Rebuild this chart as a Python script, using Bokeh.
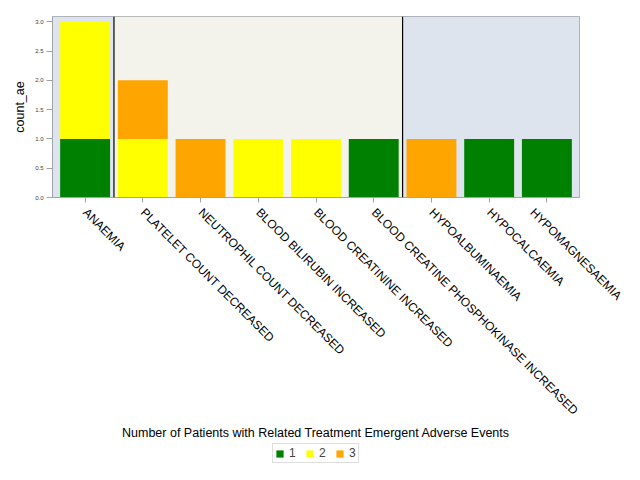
import math
from bokeh.plotting import figure
from bokeh.layouts import column
from bokeh.models import (FactorRange, Range1d, BoxAnnotation, Span, Legend, LegendItem,
                          FixedTicker, PrintfTickFormatter, ColumnDataSource)
from bokeh.embed import file_html
from bokeh.resources import INLINE

categories = ["ANAEMIA", "PLATELET COUNT DECREASED", "NEUTROPHIL COUNT DECREASED",
              "BLOOD BILIRUBIN INCREASED", "BLOOD CREATININE INCREASED",
              "BLOOD CREATINE PHOSPHOKINASE INCREASED", "HYPOALBUMINAEMIA",
              "HYPOCALCAEMIA", "HYPOMAGNESAEMIA"]
groups = ["BLOOD", "INVESTIGATIONS", "INVESTIGATIONS", "INVESTIGATIONS", "INVESTIGATIONS",
          "INVESTIGATIONS", "METABOLISM", "METABOLISM", "METABOLISM"]
grade_1 = [1, 0, 0, 0, 0, 1, 0, 1, 1]
grade_2 = [2, 1, 0, 1, 1, 0, 0, 0, 0]
grade_3 = [0, 1, 1, 0, 0, 0, 1, 0, 0]
grades = ["1", "2", "3"]
grade_colors = ["#008000", "#FFFF00", "#FFA500"]
y_ticks = [0.0, 0.5, 1.0, 1.5, 2.0, 2.5, 3.0]
group_colors = {"BLOOD": "#DEE4EE", "INVESTIGATIONS": "#F3F3EC", "METABOLISM": "#DEE4EE"}

FONT = "Liberation Sans"
AXIS_GRAY = "#A0A4A8"

source = ColumnDataSource(data=dict(cat=categories, **{"1": grade_1, "2": grade_2, "3": grade_3}))

p = figure(width=624, height=443, output_backend="svg", toolbar_location=None,
           x_range=FactorRange(factors=categories, range_padding=0.0144),
           y_range=Range1d(0, 3.09), title=None,
           min_border_left=52, min_border_right=45, min_border_top=16, min_border_bottom=246)
p.background_fill_color = "white"
p.border_fill_color = "white"
p.outline_line_color = AXIS_GRAY
p.xgrid.grid_line_color = None
p.ygrid.grid_line_color = None

# group bands and dividers
runs = []
start = 0
for i in range(1, len(groups) + 1):
    if i == len(groups) or groups[i] != groups[start]:
        runs.append((start, i, groups[start]))
        start = i
for k, (s, e, g) in enumerate(runs):
    kw = {}
    if k > 0:
        kw["left"] = s
    if k < len(runs) - 1:
        kw["right"] = e
    p.add_layout(BoxAnnotation(fill_color=group_colors[g], fill_alpha=1.0, line_color=None,
                               level="underlay", **kw))
    if k > 0:
        p.add_layout(Span(location=s, dimension="height", line_color="black", line_width=1.2))

rs = p.vbar_stack(grades, x="cat", width=0.865, color=grade_colors, line_color=None, source=source)

# axes
xa = p.xaxis[0]
xa.major_label_orientation = -math.pi / 4
xa.major_label_text_font = FONT
xa.major_label_text_font_size = "12px"
xa.major_label_text_color = "black"
xa.major_label_standoff = 8
xa.major_tick_in = 0
xa.major_tick_out = 5
xa.axis_line_color = AXIS_GRAY
xa.major_tick_line_color = AXIS_GRAY
xa.axis_label = "Number of Patients with Related Treatment Emergent Adverse Events"
xa.axis_label_text_font = FONT
xa.axis_label_text_font_size = "12.5px"
xa.axis_label_text_font_style = "normal"
xa.axis_label_text_color = "black"
xa.axis_label_standoff = 0

ya = p.yaxis[0]
ya.ticker = FixedTicker(ticks=y_ticks)
ya.formatter = PrintfTickFormatter(format="%.1f")
ya.minor_tick_line_color = None
ya.major_tick_in = 0
ya.major_tick_out = 6
ya.major_label_standoff = 3
ya.major_label_text_font = FONT
ya.major_label_text_font_size = "6px"
ya.major_label_text_color = "#404040"
ya.axis_line_color = AXIS_GRAY
ya.major_tick_line_color = AXIS_GRAY
ya.axis_label = "count_ae"
ya.axis_label_text_font = FONT
ya.axis_label_text_font_size = "12.5px"
ya.axis_label_text_font_style = "normal"
ya.axis_label_text_color = "black"
ya.axis_label_standoff = 5

# legend strip: the same stacked series as zero-width bars, so only its legend is seen
pl = figure(width=624, height=21, output_backend="svg", toolbar_location=None,
            x_axis_type=None, y_axis_type=None, title=None,
            x_range=FactorRange(factors=categories), y_range=Range1d(-2, -1),
            min_border_left=52, min_border_right=45, min_border_top=0, min_border_bottom=0)
pl.outline_line_color = None
pl.background_fill_color = "white"
pl.xgrid.grid_line_color = None
pl.ygrid.grid_line_color = None
legend_renderers = pl.vbar_stack(grades, x="cat", width=0.0, color=grade_colors,
                                 line_color=None, source=source)
legend = Legend(items=[LegendItem(label=g, renderers=[r]) for g, r in zip(grades, legend_renderers)],
                orientation="horizontal", location=(220, 1),
                border_line_color="#BEBEBE", border_line_width=1,
                glyph_width=9, glyph_height=9, label_standoff=5, spacing=9,
                padding=2, margin=0, label_height=9, label_width=7,
                label_text_font=FONT, label_text_font_size="12px",
                background_fill_alpha=1.0)
pl.add_layout(legend)

layout = column(p, pl, spacing=0)
open("out.html", "w").write(file_html(layout, INLINE))
